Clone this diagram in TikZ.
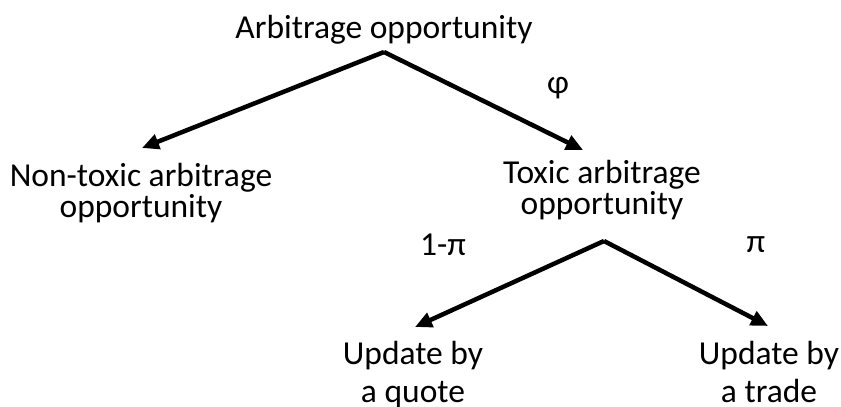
\documentclass[tikz,border=0pt]{standalone}
\usepackage{fontspec}
\setmainfont{Carlito}
\usetikzlibrary{arrows.meta}
\tikzset{
  lbl/.style={inner sep=0pt, outer sep=0pt, align=center, font=\fontsize{33.5}{31}\selectfont},
  lblb/.style={inner sep=0pt, outer sep=0pt, align=center, font=\fontsize{33.5}{38}\selectfont},
  prob/.style={inner sep=0pt, outer sep=0pt, font=\fontsize{33.5}{38}\selectfont},
  arr/.style={line width=4.5pt, -{Triangle[length=17pt,width=15pt]}}
}
\begin{document}
\begin{tikzpicture}[x=1pt,y=1pt]
\useasboundingbox (0,0) rectangle (841,407);
\node[lbl, anchor=base] (root) at (384,368) {Arbitrage opportunity};
\node[lbl, anchor=base] (nontox) at (141,189) {Non-toxic arbitrage\\opportunity};
\node[lbl, anchor=base] (tox) at (602,192) {Toxic arbitrage\\opportunity};
\node[lblb, anchor=base] (quote) at (413,4) {Update by\\a quote};
\node[lblb, anchor=base] (trade) at (769,4) {Update by\\a trade};
\node[prob] (phi) at (558,319) {φ};
\node[prob] (p1) at (443,162) {1-π};
\node[prob] (p2) at (756,162) {π};
\draw[arr] ([yshift=-13pt]root.base) -- ([xshift=1pt,yshift=70pt]nontox.base);
\draw[arr] ([yshift=-13pt]root.base) -- ([xshift=-19pt,yshift=65pt]tox.base);
\draw[arr] ([xshift=2pt,yshift=-26pt]tox.base) -- ([xshift=2pt,yshift=76pt]quote.base);
\draw[arr] ([xshift=2pt,yshift=-26pt]tox.base) -- ([xshift=-1pt,yshift=77pt]trade.base);
\end{tikzpicture}
\end{document}
